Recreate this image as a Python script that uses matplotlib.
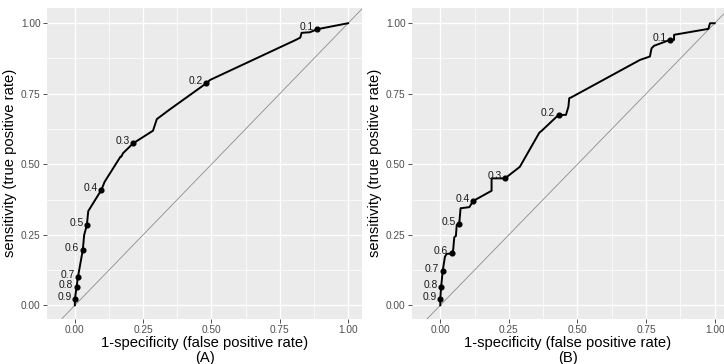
import matplotlib.pyplot as plt
import numpy as np

plt.rcParams['font.family'] = ['Liberation Sans', 'DejaVu Sans']

# ROC curve (A)
fpr_a = [0, 0, 0.006, 0.011, 0.029, 0.034, 0.044, 0.049, 0.097, 0.109, 0.167,
         0.170, 0.176, 0.213, 0.286, 0.300, 0.344, 0.481, 0.495, 0.809, 0.825,
         0.830, 0.860, 0.888, 1.0]
tpr_a = [0, 0.021, 0.064, 0.099, 0.196, 0.249, 0.285, 0.334, 0.409, 0.438, 0.527,
         0.527, 0.539, 0.574, 0.619, 0.660, 0.692, 0.787, 0.799, 0.941, 0.949,
         0.966, 0.968, 0.979, 1.0]
cut_a = ['0.9', '0.8', '0.7', '0.6', '0.5', '0.4', '0.3', '0.2', '0.1']
cut_fpr_a = [0, 0.006, 0.011, 0.029, 0.044, 0.097, 0.213, 0.481, 0.888]
cut_tpr_a = [0.021, 0.064, 0.099, 0.196, 0.285, 0.409, 0.574, 0.787, 0.979]

# ROC curve (B)
fpr_b = [0, 0, 0.003, 0.009, 0.017, 0.023, 0.041, 0.047, 0.051, 0.057, 0.060,
         0.069, 0.074, 0.106, 0.120, 0.187, 0.187, 0.236, 0.290, 0.361, 0.370,
         0.431, 0.458, 0.467, 0.470, 0.479, 0.728, 0.764, 0.770, 0.779, 0.837,
         0.852, 0.852, 0.977, 0.983, 1.0]
tpr_b = [0, 0.021, 0.064, 0.123, 0.172, 0.182, 0.184, 0.196, 0.241, 0.246, 0.285,
         0.288, 0.344, 0.348, 0.370, 0.406, 0.450, 0.450, 0.491, 0.612, 0.619,
         0.675, 0.675, 0.704, 0.734, 0.738, 0.870, 0.882, 0.911, 0.920, 0.941,
         0.941, 0.959, 0.980, 1.0, 1.0]
cut_b = ['0.9', '0.8', '0.7', '0.6', '0.5', '0.4', '0.3', '0.2', '0.1']
cut_fpr_b = [0, 0.003, 0.009, 0.041, 0.069, 0.120, 0.236, 0.431, 0.837]
cut_tpr_b = [0.021, 0.064, 0.123, 0.184, 0.288, 0.370, 0.450, 0.675, 0.941]

ticks = [0.0, 0.25, 0.5, 0.75, 1.0]
tick_labels = ['0.00', '0.25', '0.50', '0.75', '1.00']

fig = plt.figure(figsize=(7.24, 3.64), dpi=100)

W, H = 724.0, 364.0
panels = [
    (47, 362, (-0.102, 1.051), fpr_a, tpr_a, cut_a, cut_fpr_a, cut_tpr_a, '(A)'),
    (412, 724, (-0.103, 1.034), fpr_b, tpr_b, cut_b, cut_fpr_b, cut_tpr_b, '(B)'),
]

for left, right, xl, fx, ty, labs, cx, cy, tag in panels:
    ax = fig.add_axes([left / W, 45.3 / H, (right - left) / W, (318.7 - 8) / H])
    ax.set_facecolor('#EBEBEB')
    for s in ax.spines.values():
        s.set_visible(False)
    ax.set_xlim(*xl)
    ax.set_ylim(-0.0475, 1.054)
    ax.set_xticks(ticks)
    ax.set_xticklabels(tick_labels)
    ax.set_yticks(ticks)
    ax.set_yticklabels(tick_labels)
    ax.set_xticks([0.125, 0.375, 0.625, 0.875], minor=True)
    ax.set_yticks([0.125, 0.375, 0.625, 0.875], minor=True)
    ax.grid(True, which='major', color='white', lw=1.0)
    ax.grid(True, which='minor', color='white', lw=0.5)
    ax.set_axisbelow(True)
    ax.tick_params(which='major', length=2.75, width=0.6, color='#333333',
                   labelsize=7.3, labelcolor='#4D4D4D', pad=2)
    ax.tick_params(which='minor', length=0)

    ax.axline((0, 0), (1, 1), color='#8C8C8C', lw=0.6, zorder=2)
    ax.plot(fx, ty, color='black', lw=1.4, zorder=3)
    ax.plot(cx, cy, 'o', color='black', ms=3.4, zorder=4)
    for lab, x, y in zip(labs, cx, cy):
        ax.annotate(lab, (x, y), xytext=(-2.5, 1.5), textcoords='offset points',
                    ha='right', va='center', fontsize=7.4, color='#1A1A1A', zorder=5)

    ax.set_xlabel('1-specificity (false positive rate)', fontsize=10.6, labelpad=0.5)
    ax.set_ylabel('sensitivity (true positive rate)', fontsize=10.6, labelpad=3)
    fig.text((left + right) / 2 / W, (H - 358) / H, tag, fontsize=10.6,
             ha='center', va='center')

fig.savefig('out.png', dpi=100)
